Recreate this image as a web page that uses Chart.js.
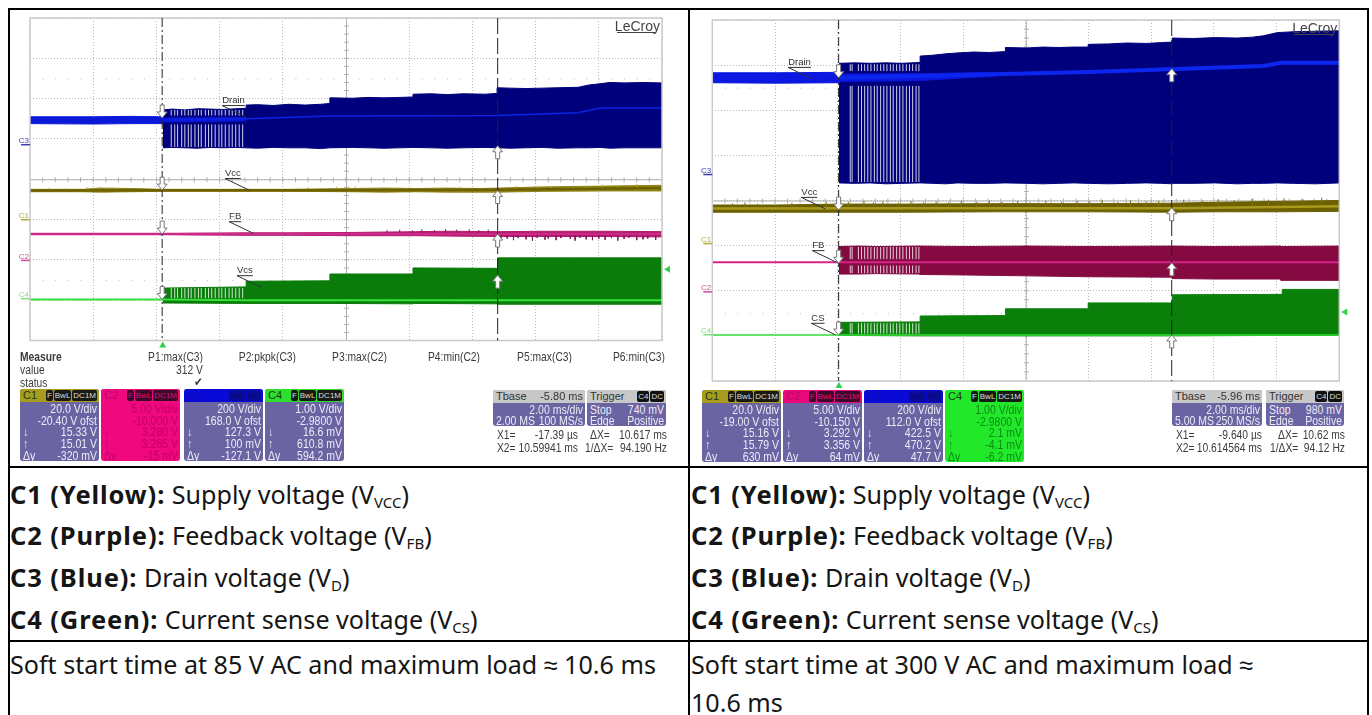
<!DOCTYPE html>
<html>
<head>
<meta charset="utf-8">
<title>Soft start waveforms</title>
<script src="https://cdn.jsdelivr.net/npm/chart.js@4/dist/chart.umd.min.js"></script>
<style>
html, body { margin: 0; background: #fff; }
#page { position: relative; width: 1372px; height: 715px; overflow: hidden; font-family: "Liberation Sans", sans-serif; }
.rule { position: absolute; background: #000; }
canvas { position: absolute; filter: blur(0.35px); }
.txt { position: absolute; white-space: nowrap; font-size: 10.3px; line-height: 13px; color: #3c3c3c; transform: scaleY(1.15); filter: blur(0.25px); }
.panel { position: absolute; border-radius: 3px; overflow: hidden; background: #6a64a2; color: #eceaf6; filter: blur(0.25px); }
.head { position: absolute; left: 0; right: 0; top: 0; height: 13px; line-height: 13px; padding-left: 3px; font-size: 11px; }
.badges { position: absolute; right: 2px; top: 1px; display: flex; gap: 1px; }
.badge { font-size: 8px; line-height: 11px; padding: 0 1px; border-radius: 2px; }
.row { position: absolute; left: 3px; right: 2px; height: 12px; line-height: 12px; font-size: 10.5px; }
.row span { position: absolute; transform: scaleY(1.15); }
.row .l { left: 0; }
.row .r { right: 0; }
.cell { position: absolute; font-family: "Noto Sans", sans-serif; font-size: 25.1px; line-height: 30px; color: #151515; white-space: nowrap; }
.cell b { font-weight: 700; font-size: 25.5px; letter-spacing: 0.9px; }
.cell sub { font-size: 15px; vertical-align: -4px; line-height: 0; }
</style>
</head>
<body>
<div id="page">
  <canvas id="leftScope" width="679" height="340" style="left:9px;top:10px"></canvas>
  <canvas id="rightScope" width="676" height="380" style="left:691px;top:10px"></canvas>
</div>
<script>
// cursor times, ms
const leftCursors = [-0.01739, 10.59941];
const rightCursors = [-0.00964, 10.614564];
const leftRange = [-4.2, 15.8];
const rightRange = [-4.04, 15.96];
const leftDivisions = [-4.2, -2.2, -0.2, 1.8, 3.8, 5.8, 7.8, 9.8, 11.8, 13.8, 15.8];
const rightDivisions = [-4.04, -2.04, -0.04, 1.96, 3.96, 5.96, 7.96, 9.96, 11.96, 13.96, 15.96];
const levelDivisions = [0, 1, 2, 3, 4, 5, 6, 7, 8];

// left scope (85 V AC), y in screen divisions
const leftDrainBaseTime = [-4.2, -2.2, -1.0, 0, 0.05, 2.64];
const leftDrainBaseTop = [5.55, 5.55, 5.56, 5.55, 5.52, 5.53];
const leftDrainBaseBottom = [5.38, 5.37, 5.38, 5.38, 5.42, 5.45];
const leftDrainTime = [0, 0.3, 0.7, 1.1, 1.5, 1.9, 2.3, 2.64, 2.64, 3.0, 3.5, 4.0, 4.5, 5.0, 5.29, 5.29, 6, 6.5, 7, 7.5, 7.92, 7.92, 8.5, 9, 9.5, 10.2, 10.58, 10.58, 11, 11.5, 12, 12.5, 13.14, 13.5, 13.84, 14.15, 14.6, 15.2, 15.8];
const leftDrainTop = [5.72, 5.74, 5.72, 5.75, 5.74, 5.73, 5.75, 5.76, 5.84, 5.85, 5.83, 5.86, 5.84, 5.86, 5.88, 6.02, 6.01, 6.03, 6.02, 6.03, 6.04, 6.11, 6.12, 6.10, 6.12, 6.11, 6.13, 6.27, 6.26, 6.25, 6.26, 6.27, 6.28, 6.34, 6.37, 6.40, 6.39, 6.40, 6.39];
const leftDrainBottom = [4.78, 4.79, 4.78, 4.77, 4.79, 4.78, 4.79, 4.78, 4.78, 4.77, 4.79, 4.78, 4.78, 4.76, 4.78, 4.78, 4.79, 4.78, 4.77, 4.78, 4.79, 4.79, 4.78, 4.77, 4.78, 4.79, 4.78, 4.78, 4.77, 4.78, 4.79, 4.77, 4.78, 4.78, 4.79, 4.77, 4.78, 4.78, 4.78];
const leftDrainMidTime = [0, 2.64, 5.29, 10.58, 13.14, 13.84, 15.8];
const leftDrainMid = [5.47, 5.50, 5.57, 5.58, 5.65, 5.77, 5.77];

const leftVccTime = [-4.2, -2.5, -2, -1, 0, 2, 4, 6, 7, 8, 9, 10, 10.6, 12, 14, 15.8];
const leftVccTop = [3.75, 3.75, 3.78, 3.77, 3.75, 3.75, 3.75, 3.77, 3.78, 3.77, 3.78, 3.77, 3.78, 3.81, 3.83, 3.85];
const leftVccBottom = [3.69, 3.69, 3.68, 3.69, 3.70, 3.70, 3.70, 3.69, 3.68, 3.69, 3.68, 3.68, 3.68, 3.70, 3.71, 3.71];
const leftVccMidTime = [-4.2, 0, 6, 10.6, 13, 15.8];
const leftVccMid = [3.72, 3.73, 3.73, 3.74, 3.76, 3.78];
const leftVccSpikes = [-3.6, -3.1, -2.4, -2.2, -2.0, -1.8, -1.6, -1.45, 4.6, 5.2, 5.5, 5.9, 6.1, 6.3, 6.8, 7.4, 7.7, 8.6, 8.9, 9.4, 11.2, 11.9, 12.3, 13.0, 13.4, 13.9, 14.4, 15.0];
const leftVccSpikeTips = [3.78, 3.77, 3.80, 3.79, 3.81, 3.79, 3.80, 3.78, 3.80, 3.78, 3.81, 3.80, 3.82, 3.80, 3.79, 3.80, 3.78, 3.80, 3.79, 3.81, 3.83, 3.84, 3.83, 3.85, 3.84, 3.87, 3.86, 3.88];

const leftFbTime = [0, 1, 2.64, 4, 6, 8, 9, 10.6, 12, 14, 15.8];
const leftFbTop = [2.65, 2.66, 2.67, 2.67, 2.68, 2.70, 2.71, 2.70, 2.71, 2.71, 2.70];
const leftFbBottom = [2.63, 2.62, 2.61, 2.61, 2.60, 2.60, 2.59, 2.58, 2.58, 2.58, 2.57];
const leftFbMidTime = [-4.2, 0, 15.8];
const leftFbMid = [2.64, 2.64, 2.64];
const leftFbSpikes = [7.1, 7.5, 7.9, 8.2, 8.6, 8.95, 9.3, 9.7, 10.0, 10.3, 10.7, 10.9, 11.1, 11.25, 11.5, 11.7, 11.85, 12.1, 12.2, 12.45, 12.6, 12.9, 13.05, 13.2, 13.4, 13.6, 13.8, 14.0, 14.2, 14.4, 14.6, 14.75, 15.0, 15.2, 15.35, 15.6];
const leftFbSpikeTips = [2.74, 2.75, 2.73, 2.76, 2.74, 2.76, 2.75, 2.76, 2.74, 2.75, 2.50, 2.53, 2.49, 2.54, 2.51, 2.48, 2.55, 2.50, 2.53, 2.49, 2.54, 2.52, 2.48, 2.55, 2.51, 2.49, 2.53, 2.50, 2.54, 2.48, 2.52, 2.55, 2.49, 2.51, 2.53, 2.50];

const leftCsTime = [0, 2.64, 2.64, 5.29, 5.29, 7.92, 7.92, 10.6, 10.6, 13, 15.8];
const leftCsTop = [1.30, 1.33, 1.47, 1.48, 1.65, 1.65, 1.80, 1.79, 2.05, 2.05, 2.05];
const leftCsBottom = [0.93, 0.92, 0.92, 0.92, 0.92, 0.91, 0.92, 0.91, 0.90, 0.90, 0.90];
const leftCsMidTime = [-4.2, 0, 2.64, 10.6, 15.8];
const leftCsMid = [1.02, 1.02, 1.00, 1.00, 1.00];
const leftBurstStripes = [0.27, 0.38, 0.47, 0.6, 0.7, 0.81, 0.9, 1.02, 1.13, 1.22, 1.35, 1.45, 1.55, 1.66, 1.78, 1.87, 1.98, 2.1, 2.2, 2.31, 2.42, 2.53];

// right scope (300 V AC)
const rightDrainBaseTime = [-4.04, -2, 0, 0.1, 2.59, 5];
const rightDrainBaseTop = [6.83, 6.83, 6.84, 6.80, 6.81, 6.84];
const rightDrainBaseBottom = [6.61, 6.60, 6.61, 6.64, 6.66, 6.76];
const rightDrainTime = [0, 0.5, 1, 1.5, 2, 2.59, 2.59, 3, 3.4, 3.77, 4.3, 4.8, 5.31, 5.31, 6, 6.5, 7, 7.5, 7.95, 7.95, 8.6, 9.2, 9.8, 10.3, 10.63, 10.63, 11.3, 12, 12.7, 13.2, 13.54, 13.98, 14.5, 15.2, 15.96];
const rightDrainTop = [7.04, 7.05, 7.04, 7.05, 7.04, 7.06, 7.20, 7.22, 7.25, 7.27, 7.29, 7.28, 7.30, 7.39, 7.38, 7.40, 7.39, 7.40, 7.40, 7.46, 7.47, 7.49, 7.48, 7.50, 7.51, 7.60, 7.59, 7.61, 7.60, 7.62, 7.65, 7.72, 7.74, 7.75, 7.76];
const rightDrainBottom = [4.39, 4.38, 4.39, 4.37, 4.38, 4.39, 4.39, 4.38, 4.37, 4.39, 4.38, 4.38, 4.39, 4.39, 4.38, 4.37, 4.38, 4.39, 4.38, 4.38, 4.37, 4.38, 4.39, 4.38, 4.37, 4.38, 4.38, 4.39, 4.37, 4.38, 4.38, 4.39, 4.38, 4.37, 4.39];
const rightDrainMidTime = [0, 2.59, 7.95, 13.54, 14.1, 15.96];
const rightDrainMid = [6.72, 6.76, 6.85, 6.98, 7.05, 7.05];

const rightVccTime = [-4.04, -2, 0, 2, 5, 8, 10.63, 12, 14, 15.96];
const rightVccTop = [3.90, 3.90, 3.92, 3.92, 3.93, 3.93, 3.94, 3.96, 3.98, 4.00];
const rightVccBottom = [3.74, 3.74, 3.74, 3.74, 3.75, 3.75, 3.74, 3.75, 3.75, 3.76];
const rightVccMidTime = [-4.04, 2, 10.63, 15.96];
const rightVccMid = [3.82, 3.83, 3.83, 3.87];
const rightVccSpikes = [-3.4, -3.0, -2.6, -1.5, -0.4, 0.3, 0.8, 1.1, 1.4, 1.9, 2.3, 2.7, 3.1, 3.5, 3.9, 4.4, 4.8, 5.2, 5.7, 6.1, 6.6, 7.1, 7.6, 8.0, 8.4, 8.9, 9.3, 9.8, 10.2, 11, 11.6, 12.1, 12.6, 13.2, 13.7, 14.2, 14.8, 15.4];
const rightVccSpikeTips = [3.94, 3.96, 3.93, 3.95, 3.96, 3.97, 3.99, 3.96, 3.98, 3.95, 3.99, 3.96, 3.98, 3.96, 3.99, 3.97, 4.00, 3.97, 3.99, 3.96, 4.00, 3.97, 3.99, 3.98, 4.01, 3.97, 4.00, 3.98, 3.99, 4.02, 4.00, 4.03, 4.01, 4.04, 4.02, 4.05, 4.03, 4.06];

const rightFbTime = [0, 0.6, 1.2, 2.59, 2.59, 4, 6, 8, 10.63, 10.63, 12, 14.1, 14.1, 15.96];
const rightFbTop = [2.98, 2.99, 2.98, 2.99, 2.99, 2.98, 2.99, 2.98, 2.99, 2.99, 2.98, 2.99, 2.98, 2.99];
const rightFbBottom = [2.37, 2.37, 2.38, 2.37, 2.36, 2.35, 2.33, 2.31, 2.30, 2.27, 2.26, 2.26, 2.23, 2.23];
const rightFbMidTime = [-4.04, 0, 15.96];
const rightFbMid = [2.63, 2.63, 2.63];

const rightCsTime = [0, 2.59, 2.59, 5.31, 5.31, 7.95, 7.95, 10.63, 10.63, 14.14, 14.14, 15.96];
const rightCsTop = [1.30, 1.31, 1.44, 1.45, 1.60, 1.60, 1.73, 1.73, 1.91, 1.92, 2.03, 2.03];
const rightCsBottom = [1.01, 1.00, 1.00, 1.00, 1.00, 1.00, 1.00, 1.00, 1.00, 1.01, 1.01, 1.01];
const rightCsMidTime = [-4.04, 0, 15.96];
const rightCsMid = [1.02, 1.02, 1.02];
const rightBurstStripes = [0.36, 0.42, 0.62, 0.72, 0.82, 0.92, 1.02, 1.13, 1.22, 1.33, 1.43, 1.53, 1.64, 1.73, 1.84, 1.94, 2.04, 2.15, 2.25, 2.35, 2.46, 2.55];

// channel tags down the left edge
const channelTags = ['C3', 'C1', 'C2', 'C4'];
const tagColors = ['#3c3cb4', '#b4aa3c', '#d24ca0', '#84e084'];
const leftTagLevels = [4.85, 2.99, 1.98, 1.03];
const rightTagLevels = [4.57, 3.04, 1.97, 1.02];

// cursor arrows, tip levels
const leftDownTips = [5.52, 3.73, 2.64, 1.02];
const leftUpTips = [4.83, 3.72, 2.64, 1.62];
const rightDownTips = [6.72, 3.79, 2.61, 1.02];
const rightUpTips = [6.92, 3.84, 2.62, 1.02];

// hand labels on the traces: text, time and level of the leader's far end
const leftNotes = ['Drain', 'Vcc', 'FB', 'Vcs'];
const leftNoteTime = [1.88, 1.97, 2.1, 2.35];
const leftNoteLevel = [5.84, 4.03, 2.96, 1.62];
const rightNotes = ['Drain', 'Vcc', 'FB', 'CS'];
const rightNoteTime = [-1.62, -1.2, -0.85, -0.88];
const rightNoteLevel = [6.96, 4.08, 2.90, 1.29];

const leftTrigLevel = 1.77;
const rightTrigLevel = 1.53;

// readouts
const panelNames = ['C1', 'C2', 'C3', 'C4'];
const leftScale = ['20.0 V/div', '5.00 V/div', '200 V/div', '1.00 V/div'];
const leftOffset = ['-20.40 V ofst', '-10.000 V', '168.0 V ofst', '-2.9800 V'];
const leftDown = ['15.33 V', '3.280 V', '127.3 V', '16.6 mV'];
const leftUp = ['15.01 V', '3.265 V', '100 mV', '610.8 mV'];
const leftDelta = ['-320 mV', '-15 mV', '-127.1 V', '594.2 mV'];
const rightScale = ['20.0 V/div', '5.00 V/div', '200 V/div', '1.00 V/div'];
const rightOffset = ['-19.00 V ofst', '-10.150 V', '112.0 V ofst', '-2.9800 V'];
const rightDown = ['15.16 V', '3.292 V', '422.5 V', '2.1 mV'];
const rightUp = ['15.79 V', '3.356 V', '470.2 V', '-4.1 mV'];
const rightDelta = ['630 mV', '64 mV', '47.7 V', '-6.2 mV'];
const measureNames = ['P1:max(C3)', 'P2:pkpk(C3)', 'P3:max(C2)', 'P4:min(C2)', 'P5:max(C3)', 'P6:min(C3)'];

function toPoints(times, values) {
    return times.map((t, i) => ({ x: t, y: values[i] }));
}

function band(times, top, bottom, color, order) {
    return [
        { data: toPoints(times, top), borderColor: color, backgroundColor: color, borderWidth: 1, fill: '+1', order: order },
        { data: toPoints(times, bottom), borderColor: color, borderWidth: 1, fill: false, order: order }
    ];
}

function trace(times, values, color, width, order) {
    return { data: toPoints(times, values), borderColor: color, borderWidth: width, fill: false, order: order };
}

// white gaps between switching bursts, one vertical run per stripe and level range
function stripes(times, ranges, order) {
    const points = [];
    times.forEach(t => {
        ranges.forEach(r => {
            points.push({ x: t, y: r[0] }, { x: t, y: r[1] }, { x: t, y: null });
        });
    });
    return { data: points, borderColor: 'rgba(255,255,255,0.8)', borderWidth: 1, fill: false, spanGaps: false, order: order };
}

function spikes(times, from, tips, color, order) {
    const points = [];
    times.forEach((t, i) => points.push({ x: t, y: from }, { x: t, y: tips[i] }, { x: t, y: null }));
    return { data: points, borderColor: color, borderWidth: 1, fill: false, spanGaps: false, order: order };
}

function drawArrow(ctx, x, tip, dir) {
    // dir 1 points down, -1 points up
    ctx.beginPath();
    ctx.moveTo(x, tip);
    ctx.lineTo(x - 5, tip - dir * 6);
    ctx.lineTo(x - 2, tip - dir * 6);
    ctx.lineTo(x - 2, tip - dir * 13);
    ctx.lineTo(x + 2, tip - dir * 13);
    ctx.lineTo(x + 2, tip - dir * 6);
    ctx.lineTo(x + 5, tip - dir * 6);
    ctx.closePath();
    ctx.fillStyle = '#fff';
    ctx.fill();
    ctx.strokeStyle = '#777';
    ctx.lineWidth = 1;
    ctx.stroke();
}

// the screen furniture that is not a trace
function scopePlugin(cfg) {
    return {
        id: 'scope',
        beforeDatasetsDraw(chart) {
            const { ctx, chartArea: a, scales: { x, y } } = chart;
            const dx = (a.right - a.left) / 50;
            ctx.save();
            ctx.strokeStyle = '#b0b0b0';
            ctx.fillStyle = '#bcbcbc';
            ctx.lineWidth = 1;
            // centre cross
            const cx = (a.left + a.right) / 2;
            const cy = y.getPixelForValue(4);
            ctx.beginPath();
            ctx.moveTo(a.left, cy + 0.5); ctx.lineTo(a.right, cy + 0.5);
            ctx.moveTo(cx + 0.5, a.top); ctx.lineTo(cx + 0.5, a.bottom);
            for (let i = 1; i < 50; i++) {
                const px = a.left + i * dx;
                ctx.moveTo(px, cy - 2); ctx.lineTo(px, cy + 3);
            }
            const dy = (a.bottom - a.top) / 40;
            for (let i = 1; i < 40; i++) {
                const py = a.top + i * dy;
                ctx.moveTo(cx - 2, py); ctx.lineTo(cx + 3, py);
            }
            ctx.stroke();
            // dot rows
            [6.5, 1.5].forEach(level => {
                const py = y.getPixelForValue(level);
                for (let i = 1; i < 50; i++) ctx.fillRect(a.left + i * dx, py, 1, 1);
            });
            ctx.restore();
        },
        afterDatasetsDraw(chart) {
            const { ctx, chartArea: a, scales: { x, y } } = chart;
            ctx.save();
            // frame
            ctx.strokeStyle = '#cacaca';
            ctx.lineWidth = 1.5;
            ctx.strokeRect(a.left, a.top, a.right - a.left, a.bottom - a.top);
            // cursors
            const x1 = x.getPixelForValue(cfg.cursors[0]);
            const x2 = x.getPixelForValue(cfg.cursors[1]);
            ctx.strokeStyle = '#222';
            ctx.lineWidth = 1;
            ctx.setLineDash([9, 3, 2, 3]);
            ctx.beginPath(); ctx.moveTo(x1, a.top); ctx.lineTo(x1, a.bottom); ctx.stroke();
            ctx.setLineDash([16, 4]);
            ctx.beginPath(); ctx.moveTo(x2, a.top); ctx.lineTo(x2, a.bottom); ctx.stroke();
            ctx.setLineDash([]);
            cfg.downTips.forEach(v => drawArrow(ctx, x1, y.getPixelForValue(v), 1));
            cfg.upTips.forEach(v => drawArrow(ctx, x2, y.getPixelForValue(v), -1));
            // trigger markers
            ctx.fillStyle = '#2fd04a';
            const tx = x.getPixelForValue(0);
            ctx.beginPath();
            ctx.moveTo(tx - 3.5, a.bottom + 7); ctx.lineTo(tx + 3.5, a.bottom + 7); ctx.lineTo(tx, a.bottom + 1);
            ctx.closePath(); ctx.fill();
            const ty = y.getPixelForValue(cfg.trigLevel);
            ctx.beginPath();
            ctx.moveTo(a.right + 2, ty); ctx.lineTo(a.right + 8, ty - 3.5); ctx.lineTo(a.right + 8, ty + 3.5);
            ctx.closePath(); ctx.fill();
            // channel tags
            ctx.font = '8px "Liberation Sans"';
            ctx.textAlign = 'right';
            channelTags.forEach((tag, i) => {
                const py = y.getPixelForValue(cfg.tagLevels[i]);
                ctx.fillStyle = tagColors[i];
                ctx.fillText(tag, a.left - 1, py - 2);
                ctx.fillRect(a.left - 9, py - 1, 9, 1.5);
            });
            // notes with a leader down to the trace
            ctx.font = '9.5px "Liberation Sans"';
            ctx.textAlign = 'left';
            cfg.notes.forEach((note, i) => {
                const nx = x.getPixelForValue(cfg.noteTime[i]);
                const ny = y.getPixelForValue(cfg.noteLevel[i]);
                const w = ctx.measureText(note).width;
                ctx.fillStyle = '#333';
                ctx.fillText(note, nx, ny - 2);
                ctx.strokeStyle = '#333';
                ctx.lineWidth = 1;
                ctx.beginPath();
                ctx.moveTo(nx + w, ny + 0.5);
                ctx.lineTo(nx, ny + 0.5);
                ctx.lineTo(nx + 24, ny + 12);
                ctx.stroke();
            });
            // logo
            ctx.font = '14px "Liberation Sans"';
            ctx.fillStyle = '#444';
            ctx.textAlign = 'right';
            ctx.fillText('LeCroy', a.right - 2, a.top + 13);
            ctx.fillRect(a.right - 45, a.top + 14, 38, 1);
            ctx.restore();
        }
    };
}

function makeScope(canvasId, padding, range, divisions, datasets, cfg) {
    return new Chart(document.getElementById(canvasId), {
        type: 'line',
        data: { datasets: datasets },
        options: {
            responsive: false,
            animation: false,
            layout: { padding: padding },
            elements: { point: { radius: 0 }, line: { tension: 0 } },
            plugins: { legend: { display: false }, tooltip: { enabled: false }, title: { display: false } },
            scales: {
                x: {
                    type: 'linear', min: range[0], max: range[1],
                    afterBuildTicks: s => { s.ticks = divisions.map(v => ({ value: v })); },
                    ticks: { display: false },
                    grid: { color: '#b8b8b8', drawTicks: false },
                    border: { display: false, dash: [1, 2] }
                },
                y: {
                    min: 0, max: 8,
                    afterBuildTicks: s => { s.ticks = levelDivisions.map(v => ({ value: v })); },
                    ticks: { display: false },
                    grid: { color: '#b8b8b8', drawTicks: false },
                    border: { display: false, dash: [1, 2] }
                }
            }
        },
        plugins: [scopePlugin(cfg)]
    });
}

const leftDatasets = [
    ...band(leftDrainTime, leftDrainTop, leftDrainBottom, '#00007c', 9),
    stripes(leftBurstStripes, [[4.80, 5.36], [5.58, 5.72]], 8),
    ...band(leftDrainBaseTime, leftDrainBaseTop, leftDrainBaseBottom, '#0c18d8', 7),
    trace(leftDrainMidTime, leftDrainMid, '#0c22e4', 1.5, 6),
    ...band(leftVccTime, leftVccTop, leftVccBottom, '#8e8214', 9),
    spikes(leftVccSpikes, 3.74, leftVccSpikeTips, '#b4a838', 8),
    trace(leftVccMidTime, leftVccMid, '#6e6200', 2.5, 6),
    ...band(leftFbTime, leftFbTop, leftFbBottom, '#b01c6c', 9),
    spikes(leftFbSpikes, 2.64, leftFbSpikeTips, '#8c1458', 8),
    trace(leftFbMidTime, leftFbMid, '#cc2a88', 2.5, 6),
    ...band(leftCsTime, leftCsTop, leftCsBottom, '#0a7c0a', 9),
    stripes(leftBurstStripes, [[1.05, 1.30]], 8),
    trace(leftCsMidTime, leftCsMid, '#35e23a', 2, 6)
];

const rightDatasets = [
    ...band(rightDrainTime, rightDrainTop, rightDrainBottom, '#00007c', 9),
    stripes(rightBurstStripes, [[4.41, 6.54], [6.87, 7.02]], 8),
    ...band(rightDrainBaseTime, rightDrainBaseTop, rightDrainBaseBottom, '#0c18e0', 7),
    trace(rightDrainMidTime, rightDrainMid, '#0c26ee', 4, 6),
    ...band(rightVccTime, rightVccTop, rightVccBottom, '#6c6000', 9),
    spikes(rightVccSpikes, 3.85, rightVccSpikeTips, '#7c7010', 8),
    trace(rightVccMidTime, rightVccMid, '#a89a1c', 2.5, 6),
    ...band(rightFbTime, rightFbTop, rightFbBottom, '#850a42', 9),
    stripes(rightBurstStripes, [[2.39, 2.56], [2.70, 2.97]], 8),
    trace(rightFbMidTime, rightFbMid, '#d62488', 2, 6),
    ...band(rightCsTime, rightCsTop, rightCsBottom, '#0a800a', 9),
    stripes(rightBurstStripes, [[1.05, 1.28]], 8),
    trace(rightCsMidTime, rightCsMid, '#35e23a', 1.5, 6)
];

makeScope('leftScope', { left: 21, right: 26, top: 8, bottom: 9.5 }, leftRange, leftDivisions, leftDatasets, {
    cursors: leftCursors, downTips: leftDownTips, upTips: leftUpTips, trigLevel: leftTrigLevel,
    tagLevels: leftTagLevels, notes: leftNotes, noteTime: leftNoteTime, noteLevel: leftNoteLevel
});
makeScope('rightScope', { left: 21.3, right: 27.7, top: 10, bottom: 9 }, rightRange, rightDivisions, rightDatasets, {
    cursors: rightCursors, downTips: rightDownTips, upTips: rightUpTips, trigLevel: rightTrigLevel,
    tagLevels: rightTagLevels, notes: rightNotes, noteTime: rightNoteTime, noteLevel: rightNoteLevel
});

// ---- everything around the screens is plain HTML ----
const page = document.getElementById('page');

function el(cls, css, html) {
    const d = document.createElement('div');
    d.className = cls;
    d.style.cssText = css;
    d.innerHTML = html || '';
    return d;
}

function addBadges(head, names, bg, fg) {
    const wrap = el('badges', '');
    names.forEach(n => wrap.appendChild(el('badge', `background:${bg};color:${fg}`, n)));
    head.appendChild(wrap);
}

const panelHead = ['#a89c1e', '#e8087c', '#0a0ad8', '#2ee02e'];

function addChannelPanels(lefts, top, whole, values) {
    lefts.forEach((left, i) => {
        const full = whole[i];
        const box = el('panel', `left:${left}px;top:${top}px;width:79px;height:72px;` + (full ? `background:${full.bg};color:${full.fg}` : ''));
        const headColor = i === 2 ? '#0a0ab0' : (i === 1 ? '#b01068' : '#1a3a1a');
        const head = el('head', `background:${full ? full.bg : panelHead[i]};color:${headColor}`, panelNames[i]);
        if (i === 2) {
            addBadges(head, ['BwL', 'DC'], '#0a0a9c', '#0a0a60');
        } else {
            addBadges(head, ['F', 'BwL', 'DC1M'], i === 1 ? '#3a0a28' : '#1a1a14', i === 1 ? '#e8087c' : '#ddd');
        }
        box.appendChild(head);
        const rows = [values.scale[i], values.offset[i], values.down[i], values.up[i], values.delta[i]];
        const marks = ['', '', '↓', '↑', 'Δy'];
        rows.forEach((r, k) => {
            box.appendChild(el('row', `top:${13 + k * 11.7}px`, `<span class="l">${marks[k]}</span><span class="r">${r}</span>`));
        });
        page.appendChild(box);
    });
}

addChannelPanels([20, 101, 184, 265], 389, [null, { bg: '#f0087e', fg: '#c00064' }, null, null],
    { scale: leftScale, offset: leftOffset, down: leftDown, up: leftUp, delta: leftDelta });
addChannelPanels([702, 783, 864, 945], 390, [null, null, null, { bg: '#22e82a', fg: '#0c8a18' }],
    { scale: rightScale, offset: rightOffset, down: rightDown, up: rightUp, delta: rightDelta });

function addTimePanels(tbaseX, tbaseW, trigX, trigW, t) {
    const tb = el('panel', `left:${tbaseX}px;top:390px;width:${tbaseW}px;height:36px`);
    tb.appendChild(el('head', 'background:#c8c8c8;color:#333', 'Tbase<span style="position:absolute;right:2px">' + t.base + '</span>'));
    tb.appendChild(el('row', 'top:13px', `<span class="r">${t.div}</span>`));
    tb.appendChild(el('row', 'top:24px', `<span class="l">${t.depth}</span><span class="r">${t.rate}</span>`));
    page.appendChild(tb);
    const tr = el('panel', `left:${trigX}px;top:390px;width:${trigW}px;height:36px`);
    const head = el('head', 'background:#c8c8c8;color:#333', 'Trigger');
    addBadges(head, ['C4', 'DC'], '#111', '#ddd');
    tr.appendChild(head);
    tr.appendChild(el('row', 'top:13px', `<span class="l">Stop</span><span class="r">${t.level}</span>`));
    tr.appendChild(el('row', 'top:24px', '<span class="l">Edge</span><span class="r">Positive</span>'));
    page.appendChild(tr);
}

addTimePanels(493, 92, 587, 79, { base: '-5.80 ms', div: '2.00 ms/div', depth: '2.00 MS', rate: '100 MS/s', level: '740 mV' });
addTimePanels(1172, 90, 1266, 78, { base: '-5.96 ms', div: '2.00 ms/div', depth: '5.00 MS', rate: '250 MS/s', level: '980 mV' });

function addText(text, right, top, left) {
    const pos = left !== undefined ? `left:${left}px` : `right:${1372 - right}px`;
    page.appendChild(el('txt', `${pos};top:${top}px`, text));
}

addText('X1=', 0, 428, 497);
addText('-17.39 µs', 578, 428);
addText('ΔX=', 0, 428, 590);
addText('10.617 ms', 667, 428);
addText('X2=', 0, 441, 497);
addText('10.59941 ms', 578, 441);
addText('1/ΔX=', 0, 441, 585);
addText('94.190 Hz', 667, 441);
addText('X1=', 0, 428, 1176);
addText('-9.640 µs', 1262, 428);
addText('ΔX=', 0, 428, 1278);
addText('10.62 ms', 1345, 428);
addText('X2=', 0, 441, 1176);
addText('10.614564 ms', 1262, 441);
addText('1/ΔX=', 0, 441, 1270);
addText('94.12 Hz', 1345, 441);

const measureRights = [203, 296, 387, 480, 572, 665];
measureNames.forEach((name, i) => addText(name, measureRights[i], 350));
addText('<b>Measure</b>', 0, 350, 20);
addText('value', 0, 363, 20);
addText('status', 0, 376, 20);
addText('312 V', 203, 363);
addText('✔', 202, 375);

// table around the two screens
[['left:8px;top:8px;width:2px;height:707px'],
 ['left:688px;top:8px;width:2px;height:707px'],
 ['left:1367px;top:8px;width:2px;height:707px'],
 ['left:8px;top:8px;width:1361px;height:2px'],
 ['left:8px;top:466px;width:1361px;height:2px'],
 ['left:8px;top:640px;width:1361px;height:2px']].forEach(r => page.appendChild(el('rule', r[0])));

const legendLines = [
    '<b>C1 (Yellow):</b> Supply voltage (V<sub>VCC</sub>)',
    '<b>C2 (Purple):</b> Feedback voltage (V<sub>FB</sub>)',
    '<b>C3 (Blue):</b> Drain voltage (V<sub>D</sub>)',
    '<b>C4 (Green):</b> Current sense voltage (V<sub>CS</sub>)'
];
const legendTops = [479, 520, 562, 604];
[10, 691].forEach(x => {
    legendLines.forEach((line, i) => page.appendChild(el('cell', `left:${x}px;top:${legendTops[i]}px`, line)));
});
page.appendChild(el('cell', 'left:10px;top:649px', 'Soft start time at 85 V AC and maximum load ≈ 10.6 ms'));
page.appendChild(el('cell', 'left:691px;top:649px', 'Soft start time at 300 V AC and maximum load ≈'));
page.appendChild(el('cell', 'left:691px;top:687px', '10.6 ms'));
</script>
</body>
</html>
